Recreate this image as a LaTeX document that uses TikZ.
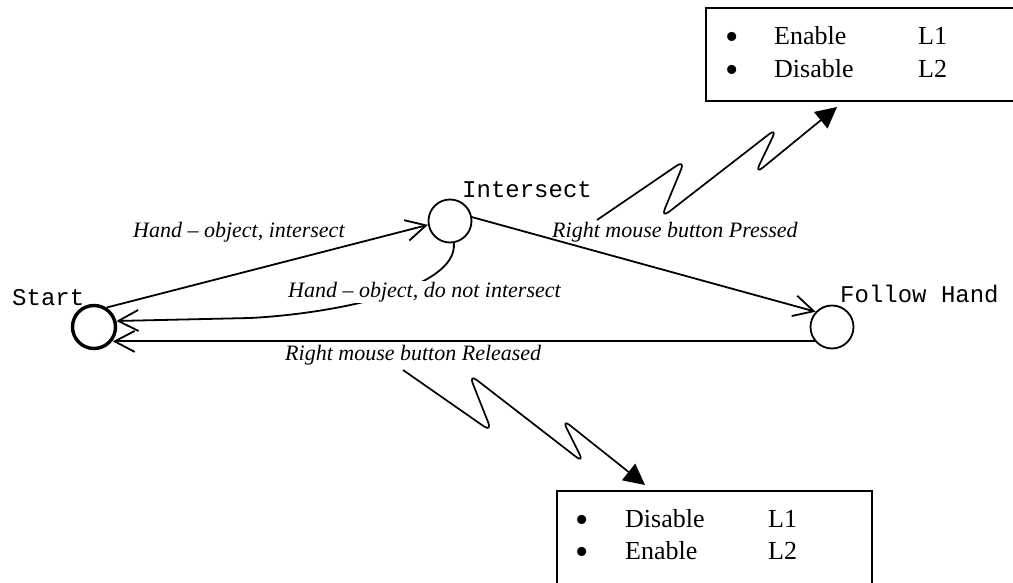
\documentclass[tikz,border=0pt]{standalone}
\usepackage{fontspec}
\setmainfont{Liberation Serif}
\newfontfamily\monofont{Liberation Mono}
\usetikzlibrary{arrows.meta}
\begin{document}
\begin{tikzpicture}[x=1pt,y=-1pt,
  state/.style={circle,draw,line width=1.8pt,minimum size=43pt,inner sep=0pt},
  initstate/.style={state,line width=3.4pt},
  statename/.style={anchor=base west,inner sep=0pt,font=\monofont\fontsize{24}{28}\selectfont},
  conn/.style={line width=1.8pt,-{Straight Barb[length=20pt,width=21pt]}},
  event/.style={anchor=base west,inner sep=0pt,font=\itshape\fontsize{22}{26}\selectfont},
  actionbox/.style={draw,line width=2pt,anchor=north west,inner sep=0pt},
  item/.style={anchor=base west,inner sep=0pt,font=\fontsize{26}{30}\selectfont},
  bul/.style={anchor=base,inner sep=0pt,font=\fontsize{38}{40}\selectfont},
  bolt/.style={line width=1.7pt,rounded corners=10pt,-{Triangle[length=21pt,width=21pt]}}
]
\useasboundingbox (0,0) rectangle (1013,583);

% states
\node[initstate] (S) at (94,327) {};
\node[state] (I) at (450,221) {};
\node[state] (F) at (832,327) {};
\node[statename] (Sname) at (12,305) {Start};
\node[statename] (Iname) at (462,197) {Intersect};
\node[statename] (Fname) at (840,302) {Follow Hand};

% transitions
\draw[conn] (S.57) -- (I.190);
\draw[conn] (I.10) -- (F.137);
\draw[conn] (I.280) .. controls (458,290) and (330,314) .. (250,318) -- (S.15);
\draw[conn] (F.220) -- (S.-36 |- F.220);

\node[event] (e1) at (133,237) {Hand -- object, intersect};
\node[event] (e2) at (552,237) {Right mouse button Pressed};
\node[event,fill=white,inner sep=1pt] (e3) at (287,297) {Hand -- object, do not intersect};
\node[event] (e4) at (285,360) {Right mouse button Released};

% action boxes
\node[actionbox,minimum width=330pt,minimum height=93pt] (on) at (705,7) {};
\node[bul] (on1b) at (732,50) {\textbullet};
\node[item] (on1a) at (774,45) {Enable};
\node[item] (on1l) at (918,45) {L1};
\node[bul] (on2b) at (732,83) {\textbullet};
\node[item] (on2a) at (774,78) {Disable};
\node[item] (on2l) at (918,78) {L2};

\node[actionbox,minimum width=315pt,minimum height=110pt] (off) at (556,490) {};
\node[bul] (off1b) at (582,532) {\textbullet};
\node[item] (off1a) at (625,527) {Disable};
\node[item] (off1l) at (768,527) {L1};
\node[bul] (off2b) at (582,564) {\textbullet};
\node[item] (off2a) at (625,559) {Enable};
\node[item] (off2l) at (768,559) {L2};

% lightning arrows to the action boxes
\coordinate (p0) at (597,220);
\coordinate (ontip) at (837,107);
\draw[bolt] (p0) -- (685,160) -- (661,218) -- (777,128) -- (755,174) -- (ontip);

\coordinate (q0) at (403,370);
\coordinate (offtip) at (645,485);
\draw[bolt] (q0) -- (492,432) -- (469,374) -- (584,463) -- (562,419) -- (offtip);
\end{tikzpicture}
\end{document}
